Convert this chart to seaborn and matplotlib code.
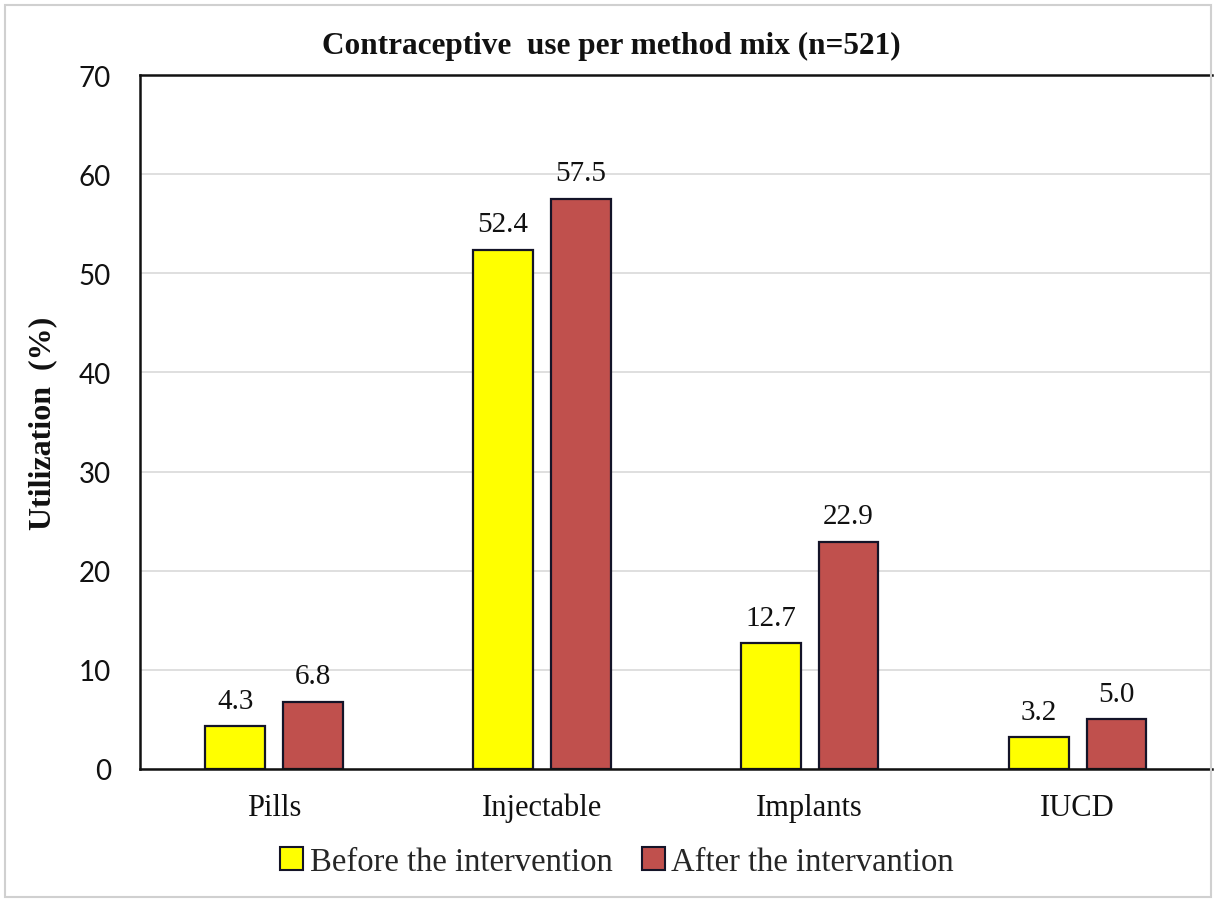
import matplotlib
matplotlib.use("Agg")
import matplotlib.pyplot as plt
from matplotlib.patches import Rectangle
import seaborn as sns
import pandas as pd

methods = ["Pills", "Injectable", "Implants", "IUCD"]
before = [4.3, 52.4, 12.7, 3.2]
after = [6.8, 57.5, 22.9, 5.0]
series_names = ["Before the intervention", "After the intervantion"]
colors = ["#FFFF00", "#C0504D"]
y_ticks = [0, 10, 20, 30, 40, 50, 60, 70]

df = pd.DataFrame({
    "method": methods * 2,
    "value": before + after,
    "period": [series_names[0]] * len(methods) + [series_names[1]] * len(methods),
})

sns.set_theme(style="white")
serif = ["Liberation Serif", "DejaVu Serif"]

fig = plt.figure(figsize=(12.15, 9.03), dpi=100)
ax = fig.add_axes([0.1152, 0.1473, 0.882, 0.7685])

sns.barplot(data=df, x="method", y="value", hue="period", order=methods,
            hue_order=series_names, palette=colors, width=0.58, gap=0.23,
            edgecolor="#141428", linewidth=1.6, saturation=1, ax=ax,
            legend=False, errorbar=None)

for container in ax.containers:
    ax.bar_label(container, fmt="%.1f", padding=9, fontsize=21,
                 family=serif, color="#111111")

ax.set_xlim(-0.5, 3.5)
ax.set_ylim(0, 70)
ax.set_yticks(y_ticks)
ax.yaxis.grid(True, color="#D9D9D9", linewidth=1.2)
ax.set_axisbelow(True)

for side in ["left", "bottom", "top"]:
    ax.spines[side].set_visible(True)
    ax.spines[side].set_color("#111111")
    ax.spines[side].set_linewidth(1.8)
ax.spines["right"].set_visible(False)

ax.tick_params(axis="x", length=0, pad=17)
ax.tick_params(axis="y", length=0, pad=21)
for lbl in ax.get_xticklabels():
    lbl.set_fontfamily(serif)
    lbl.set_fontsize(22)
    lbl.set_color("#111111")
for lbl in ax.get_yticklabels():
    lbl.set_fontfamily(["Lato", "DejaVu Sans"])
    lbl.set_fontsize(20)
    lbl.set_color("#111111")

ax.set_xlabel("")
ax.set_ylabel("Utilization  (%)", fontsize=23, fontweight="bold",
              family=serif, color="#111111")
ax.yaxis.set_label_coords(-0.077, 0.5)

fig.text(0.503, 0.948, "Contraceptive  use per method mix (n=521)",
         ha="center", va="center", fontsize=22.5, fontweight="bold",
         family=serif, color="#111111")

handles = [Rectangle((0, 0), 1, 1, facecolor=c, edgecolor="#141428", linewidth=1.5)
           for c in colors]
fig.legend(handles, series_names, loc="center", bbox_to_anchor=(0.508, 0.045),
           ncol=2, frameon=False, handlelength=0.7, handleheight=0.7,
           handletextpad=0.2, columnspacing=0.9,
           prop={"family": serif, "size": 23.5})

fig.patches.append(Rectangle((0.004, 0.006), 0.993, 0.987, transform=fig.transFigure,
                             fill=False, edgecolor="#D0D0D0", linewidth=1.5))

fig.savefig("out.png", dpi=100)
